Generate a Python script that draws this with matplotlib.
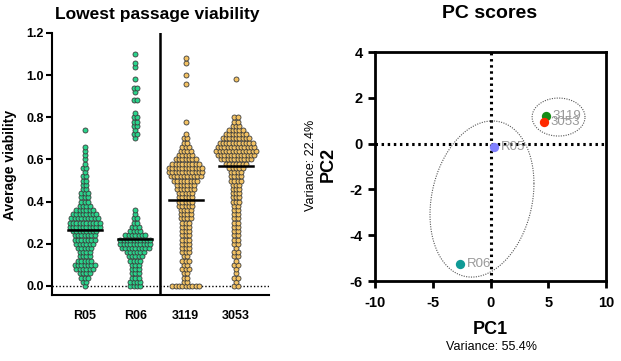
import numpy as np
import matplotlib.pyplot as plt

plt.rcParams["font.family"] = ["Liberation Sans", "DejaVu Sans"]

groups = ["R05", "R06", "3119", "3053"]
levels = [0.00, 0.02, 0.04, 0.06, 0.08, 0.10, 0.12, 0.14, 0.16, 0.18,
          0.20, 0.22, 0.24, 0.26, 0.28, 0.30, 0.32, 0.34, 0.36, 0.38,
          0.40, 0.42, 0.44, 0.46, 0.48, 0.50, 0.52, 0.54, 0.56, 0.58,
          0.60, 0.62, 0.64, 0.66, 0.68, 0.70, 0.72, 0.74, 0.76, 0.78,
          0.80, 0.82, 0.84, 0.86, 0.88, 0.90, 0.92, 0.94, 0.96, 0.98,
          1.00, 1.02, 1.04, 1.06, 1.08, 1.10]
counts_r05 = [1, 2, 3, 4, 6, 7, 5, 4, 4, 5,
              6, 7, 7, 8, 10, 10, 9, 8, 6, 4,
              3, 3, 3, 2, 2, 2, 2, 1, 2, 1,
              1, 1, 1, 1, 0, 0, 0, 1, 0, 0,
              0, 0, 0, 0, 0, 0, 0, 0, 0, 0,
              0, 0, 0, 0, 0, 0]
counts_r06 = [4, 4, 3, 3, 3, 3, 4, 5, 6, 9,
              10, 10, 7, 4, 3, 2, 2, 1, 1, 0,
              0, 0, 0, 0, 0, 0, 0, 0, 0, 0,
              0, 0, 0, 0, 0, 1, 2, 1, 2, 2,
              2, 1, 0, 0, 2, 0, 1, 2, 0, 1,
              0, 0, 1, 1, 0, 1]
counts_3119 = [9, 2, 2, 2, 3, 2, 3, 2, 3, 3,
               3, 3, 3, 3, 3, 3, 4, 4, 4, 5,
               5, 5, 5, 6, 6, 8, 10, 11, 11, 9,
               7, 5, 4, 3, 2, 2, 1, 0, 0, 1,
               0, 0, 0, 0, 0, 0, 0, 0, 1, 0,
               1, 0, 0, 1, 1, 0]
counts_3053 = [2, 1, 2, 1, 1, 2, 1, 2, 2, 1,
               2, 2, 2, 2, 2, 2, 2, 2, 2, 2,
               3, 3, 3, 3, 3, 4, 4, 4, 5, 7,
               10, 12, 13, 12, 11, 9, 7, 5, 3, 2,
               2, 0, 0, 0, 0, 0, 0, 0, 0, 1,
               0, 0, 0, 0, 0, 0]
means = [0.265, 0.225, 0.41, 0.57]
fills = ["#2ad48c", "#2ad48c", "#f3c263", "#f3c263"]

# ---- right panel: PCA scores
pc_names = ["R05", "R06", "3119", "3053"]
pc1 = [0.33, -2.6, 4.78, 4.6]
pc2 = [-0.13, -5.26, 1.22, 0.94]
pc_colors = ["#8080ff", "#0f9a96", "#168c16", "#ff2a00"]
# confidence ellipses: centre x, centre y, half-width, half-height, tilt phase
ellipses = [(-0.74, -2.42, 4.5, 3.41, 0.2), (5.89, 1.16, 2.29, 0.83, 0.0)]


def swarm(ax, pos, counts, color, dx=0.066):
    xs, ys = [], []
    for lv, n in zip(levels, counts):
        for i in range(n):
            xs.append(pos + (i - (n - 1) / 2) * dx)
            ys.append(lv)
    ax.scatter(xs, ys, s=13, c=color, edgecolors="#3c3c3c",
               linewidths=0.6, zorder=3)


fig = plt.figure(figsize=(6.21, 3.61), dpi=100)

ax1 = fig.add_axes([0.0837, 0.1828, 0.3494, 0.7258])
all_counts = [counts_r05, counts_r06, counts_3119, counts_3053]
for i, c in enumerate(all_counts):
    swarm(ax1, i, c, fills[i])
    ax1.plot([i - 0.34, i + 0.34], [means[i], means[i]], color="black",
             lw=1.8, zorder=4)
ax1.axhline(0, color="black", lw=1, ls=(0, (1, 1.5)), zorder=1)
ax1.axvline(1.5, color="black", lw=1.8, zorder=2)
ax1.set_xlim(-0.65, 3.65)
ax1.set_ylim(-0.043, 1.2)
ax1.set_yticks([0.0, 0.2, 0.4, 0.6, 0.8, 1.0, 1.2])
ax1.set_yticklabels(["0.0", "0.2", "0.4", "0.6", "0.8", "1.0", "1.2"],
                    fontsize=9, fontweight="bold")
ax1.set_xticks(range(4))
ax1.set_xticklabels(groups, fontsize=9, fontweight="bold")
ax1.tick_params(axis="x", length=0, pad=11)
ax1.tick_params(axis="y", length=4, width=1.5, pad=2)
for s in ["top", "right"]:
    ax1.spines[s].set_visible(False)
for s in ["left", "bottom"]:
    ax1.spines[s].set_linewidth(1.5)

fig.text(157 / 621, 1 - 15 / 361, "Lowest passage viability", ha="center",
         va="center", fontsize=12.5, fontweight="bold")
fig.text(10 / 621, 1 - 165 / 361, "Average viability", rotation=90,
         ha="center", va="center", fontsize=10, fontweight="bold")

ax2 = fig.add_axes([0.6039, 0.2216, 0.372, 0.6343])
ax2.axvline(0, color="black", lw=2.2, ls=(0, (0.8, 1.2)), zorder=1)
ax2.axhline(0, color="black", lw=2.2, ls=(0, (0.8, 1.2)), zorder=1)
t = np.linspace(0, 2 * np.pi, 300)
for cx, cy, a, b, ph in ellipses:
    ax2.plot(cx + a * np.cos(t), cy + b * np.sin(t + ph), color="#555555",
             lw=0.8, ls=(0, (1, 1.2)), zorder=2)
for name, x, y, col in zip(pc_names, pc1, pc2, pc_colors):
    ax2.scatter([x], [y], s=45, c=col, zorder=3, linewidths=0)
    ax2.text(x + 0.55, y, name, color="#999999", fontsize=9.5,
             ha="left", va="center", zorder=4)
ax2.set_xlim(-10, 10)
ax2.set_ylim(-6, 4)
ax2.set_xticks([-10, -5, 0, 5, 10])
ax2.set_yticks([-6, -4, -2, 0, 2, 4])
ax2.set_xticklabels(["-10", "-5", "0", "5", "10"], fontsize=10.5,
                    fontweight="bold")
ax2.set_yticklabels(["-6", "-4", "-2", "0", "2", "4"], fontsize=10.5,
                    fontweight="bold")
ax2.tick_params(axis="both", length=5, width=2)
ax2.tick_params(axis="x", pad=6)
ax2.tick_params(axis="y", pad=4)
for s in ax2.spines.values():
    s.set_linewidth(2)

fig.text(490 / 621, 1 - 14 / 361, "PC scores", ha="center", va="center",
         fontsize=14, fontweight="bold")
fig.text(490 / 621, 1 - 329 / 361, "PC1", ha="center", va="center",
         fontsize=13, fontweight="bold")
fig.text(491 / 621, 1 - 347 / 361, "Variance: 55.4%", ha="center",
         va="center", fontsize=9)
fig.text(328 / 621, 1 - 164 / 361, "PC2", rotation=90, ha="center",
         va="center", fontsize=13, fontweight="bold")
fig.text(311 / 621, 1 - 165 / 361, "Variance: 22.4%", rotation=90,
         ha="center", va="center", fontsize=9)

fig.savefig("out.png", dpi=100)
